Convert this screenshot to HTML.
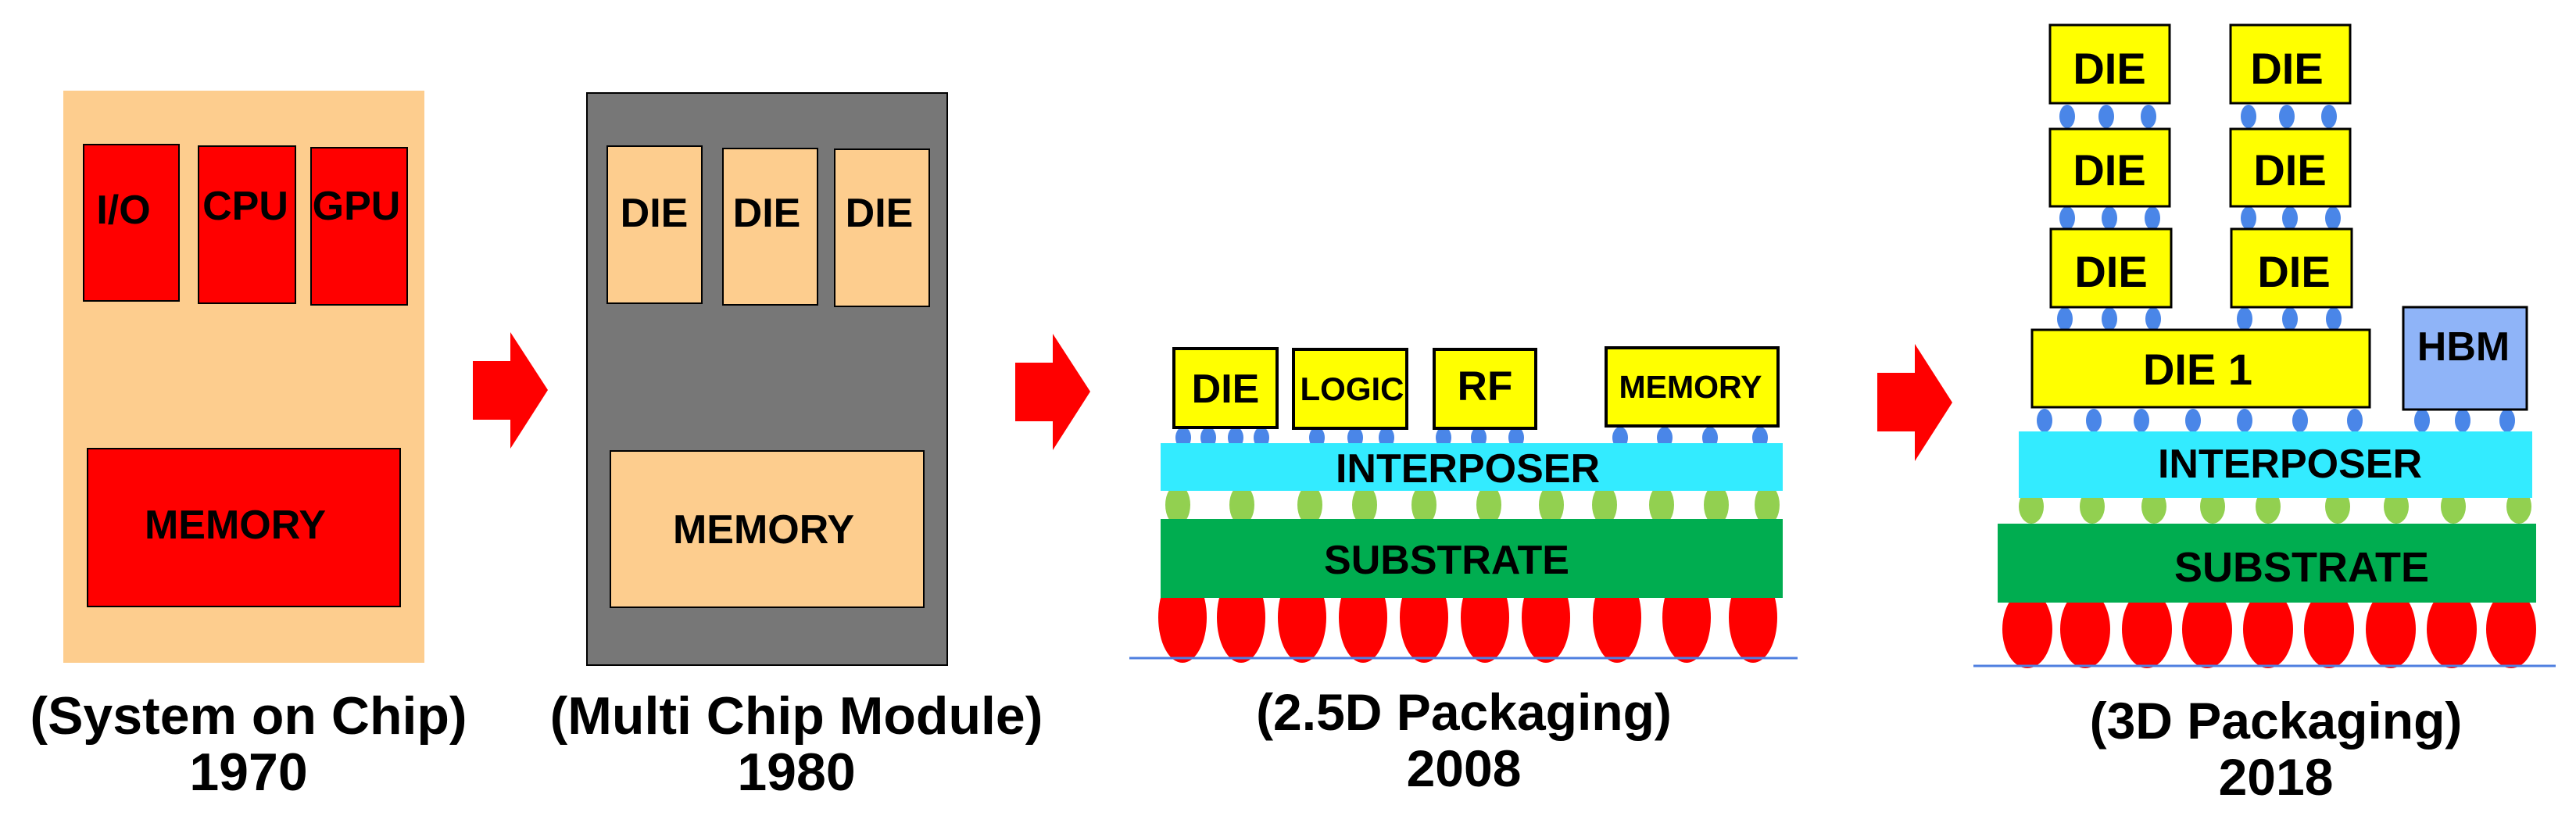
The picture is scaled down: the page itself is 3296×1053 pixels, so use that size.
<!DOCTYPE html>
<html><head><meta charset="utf-8"><style>
html,body{margin:0;padding:0;background:#fff;}
svg{display:block;}
text{font-family:"Liberation Sans",Arial,sans-serif;font-weight:bold;fill:#000;text-anchor:middle;}
</style></head><body>
<svg width="3296" height="1053" viewBox="0 0 3296 1053" xmlns="http://www.w3.org/2000/svg">
<!-- SoC -->
<rect x="81" y="116" width="462" height="732" fill="#FDCD8E"/>
<g fill="#FF0000" stroke="#000" stroke-width="2">
<rect x="107" y="185" width="122" height="200"/>
<rect x="254" y="187" width="124" height="201"/>
<rect x="398" y="189" width="123" height="201"/>
<rect x="112" y="574" width="400" height="202"/>
</g>
<text x="158" y="286" font-size="52">I/O</text>
<text x="314" y="281" font-size="52">CPU</text>
<text x="456" y="281" font-size="52">GPU</text>
<text x="301" y="689" font-size="52">MEMORY</text>
<text x="318" y="939" font-size="68">(System on Chip)</text>
<text x="318" y="1011" font-size="68">1970</text>
<!-- arrow 1 -->
<polygon points="605,462 653,462 653,425 701,499 653,574 653,537 605,537" fill="#FF0000"/>
<!-- MCM -->
<rect x="751" y="119" width="461" height="732" fill="#777777" stroke="#000" stroke-width="2"/>
<g fill="#FDCD8E" stroke="#000" stroke-width="2">
<rect x="777" y="187" width="121" height="201"/>
<rect x="925" y="190" width="121" height="200"/>
<rect x="1068" y="191" width="121" height="201"/>
<rect x="781" y="577" width="401" height="200"/>
</g>
<text x="837" y="290" font-size="52">DIE</text>
<text x="981" y="290" font-size="52">DIE</text>
<text x="1125" y="290" font-size="52">DIE</text>
<text x="977" y="695" font-size="52">MEMORY</text>
<text x="1019" y="939" font-size="68">(Multi Chip Module)</text>
<text x="1019" y="1011" font-size="68">1980</text>
<!-- arrow 2 -->
<polygon points="1299,464 1347,464 1347,427 1395,501 1347,576 1347,539 1299,539" fill="#FF0000"/>
<!-- 2.5D -->
<g fill="#FF0000">
<ellipse cx="1513" cy="790" rx="31" ry="58"/><ellipse cx="1588" cy="790" rx="31" ry="58"/>
<ellipse cx="1666" cy="790" rx="31" ry="58"/><ellipse cx="1744" cy="790" rx="31" ry="58"/>
<ellipse cx="1822" cy="790" rx="31" ry="58"/><ellipse cx="1900" cy="790" rx="31" ry="58"/>
<ellipse cx="1978" cy="790" rx="31" ry="58"/><ellipse cx="2069" cy="790" rx="31" ry="58"/>
<ellipse cx="2158" cy="790" rx="31" ry="58"/><ellipse cx="2243" cy="790" rx="31" ry="58"/>
</g>
<line x1="1445" y1="842" x2="2300" y2="842" stroke="#4F7FE0" stroke-width="3"/>
<g fill="#92D050">
<ellipse cx="1507" cy="646" rx="16" ry="26"/><ellipse cx="1589" cy="646" rx="16" ry="26"/>
<ellipse cx="1676" cy="646" rx="16" ry="26"/><ellipse cx="1746" cy="646" rx="16" ry="26"/>
<ellipse cx="1822" cy="646" rx="16" ry="26"/><ellipse cx="1905" cy="646" rx="16" ry="26"/>
<ellipse cx="1985" cy="646" rx="16" ry="26"/><ellipse cx="2053" cy="646" rx="16" ry="26"/>
<ellipse cx="2126" cy="646" rx="16" ry="26"/><ellipse cx="2196" cy="646" rx="16" ry="26"/>
<ellipse cx="2261" cy="646" rx="16" ry="26"/>
</g>
<g fill="#4A86E8">
<ellipse cx="1514" cy="560" rx="10" ry="14"/><ellipse cx="1546" cy="560" rx="10" ry="14"/>
<ellipse cx="1581" cy="560" rx="10" ry="14"/><ellipse cx="1614" cy="560" rx="10" ry="14"/>
<ellipse cx="1685" cy="560" rx="10" ry="14"/><ellipse cx="1734" cy="560" rx="10" ry="14"/>
<ellipse cx="1774" cy="560" rx="10" ry="14"/><ellipse cx="1847" cy="560" rx="10" ry="14"/>
<ellipse cx="1892" cy="560" rx="10" ry="14"/><ellipse cx="1940" cy="560" rx="10" ry="14"/>
<ellipse cx="2073" cy="560" rx="10" ry="14"/><ellipse cx="2130" cy="560" rx="10" ry="14"/>
<ellipse cx="2188" cy="560" rx="10" ry="14"/><ellipse cx="2252" cy="560" rx="10" ry="14"/>
</g>
<rect x="1485" y="567" width="796" height="61" fill="#33EBFF"/>
<rect x="1485" y="664" width="796" height="101" fill="#00AD50"/>
<text x="1878" y="617" font-size="52">INTERPOSER</text>
<text x="1851" y="734" font-size="52">SUBSTRATE</text>
<g fill="#FFFF00" stroke="#000" stroke-width="4">
<rect x="1502" y="446" width="132" height="101"/>
<rect x="1655" y="447" width="145" height="101"/>
<rect x="1835" y="447" width="130" height="101"/>
<rect x="2055" y="445" width="220" height="100"/>
</g>
<text x="1568" y="515" font-size="52">DIE</text>
<text x="1730" y="512" font-size="42">LOGIC</text>
<text x="1900" y="512" font-size="53">RF</text>
<text x="2163" y="509" font-size="41">MEMORY</text>
<text x="1873" y="934" font-size="66">(2.5D Packaging)</text>
<text x="1873" y="1006" font-size="66">2008</text>
<!-- arrow 3 -->
<polygon points="2402,477 2450,477 2450,440 2498,515 2450,590 2450,552 2402,552" fill="#FF0000"/>
<!-- 3D -->
<g fill="#FF0000">
<ellipse cx="2594" cy="805" rx="32" ry="50"/><ellipse cx="2668" cy="805" rx="32" ry="50"/>
<ellipse cx="2747" cy="805" rx="32" ry="50"/><ellipse cx="2824" cy="805" rx="32" ry="50"/>
<ellipse cx="2902" cy="805" rx="32" ry="50"/><ellipse cx="2980" cy="805" rx="32" ry="50"/>
<ellipse cx="3059" cy="805" rx="32" ry="50"/><ellipse cx="3137" cy="805" rx="32" ry="50"/>
<ellipse cx="3213" cy="805" rx="32" ry="50"/>
</g>
<line x1="2525" y1="852" x2="3270" y2="852" stroke="#4F7FE0" stroke-width="3"/>
<g fill="#92D050">
<ellipse cx="2599" cy="648" rx="16" ry="22"/><ellipse cx="2677" cy="648" rx="16" ry="22"/>
<ellipse cx="2756" cy="648" rx="16" ry="22"/><ellipse cx="2831" cy="648" rx="16" ry="22"/>
<ellipse cx="2902" cy="648" rx="16" ry="22"/><ellipse cx="2991" cy="648" rx="16" ry="22"/>
<ellipse cx="3066" cy="648" rx="16" ry="22"/><ellipse cx="3139" cy="648" rx="16" ry="22"/>
<ellipse cx="3223" cy="648" rx="16" ry="22"/>
</g>
<g fill="#4A86E8">
<ellipse cx="2616" cy="538" rx="10" ry="15"/><ellipse cx="2679" cy="538" rx="10" ry="15"/>
<ellipse cx="2740" cy="538" rx="10" ry="15"/><ellipse cx="2806" cy="538" rx="10" ry="15"/>
<ellipse cx="2872" cy="538" rx="10" ry="15"/><ellipse cx="2943" cy="538" rx="10" ry="15"/>
<ellipse cx="3013" cy="538" rx="10" ry="15"/><ellipse cx="3099" cy="538" rx="10" ry="15"/>
<ellipse cx="3151" cy="538" rx="10" ry="15"/><ellipse cx="3208" cy="538" rx="10" ry="15"/>
<ellipse cx="2645" cy="149" rx="10" ry="15"/><ellipse cx="2695" cy="149" rx="10" ry="15"/>
<ellipse cx="2749" cy="149" rx="10" ry="15"/><ellipse cx="2877" cy="149" rx="10" ry="15"/>
<ellipse cx="2926" cy="149" rx="10" ry="15"/><ellipse cx="2980" cy="149" rx="10" ry="15"/>
<ellipse cx="2645" cy="279" rx="10" ry="15"/><ellipse cx="2699" cy="279" rx="10" ry="15"/>
<ellipse cx="2754" cy="279" rx="10" ry="15"/><ellipse cx="2877" cy="279" rx="10" ry="15"/>
<ellipse cx="2930" cy="279" rx="10" ry="15"/><ellipse cx="2985" cy="279" rx="10" ry="15"/>
<ellipse cx="2642" cy="408" rx="10" ry="15"/><ellipse cx="2699" cy="408" rx="10" ry="15"/>
<ellipse cx="2755" cy="408" rx="10" ry="15"/><ellipse cx="2872" cy="408" rx="10" ry="15"/>
<ellipse cx="2930" cy="408" rx="10" ry="15"/><ellipse cx="2986" cy="408" rx="10" ry="15"/>
</g>
<rect x="2583" y="552" width="657" height="85" fill="#33EBFF"/>
<rect x="2556" y="670" width="689" height="101" fill="#00AD50"/>
<text x="2930" y="611" font-size="52">INTERPOSER</text>
<text x="2945" y="744" font-size="54">SUBSTRATE</text>
<g fill="#FFFF00" stroke="#000" stroke-width="3">
<rect x="2623" y="32" width="153" height="100"/>
<rect x="2854" y="32" width="153" height="100"/>
<rect x="2623" y="165" width="153" height="99"/>
<rect x="2854" y="165" width="153" height="99"/>
<rect x="2624" y="293" width="154" height="100"/>
<rect x="2855" y="293" width="154" height="100"/>
<rect x="2600" y="422" width="432" height="99"/>
</g>
<rect x="3075" y="393" width="158" height="131" fill="#8FB4F8" stroke="#000" stroke-width="3"/>
<text x="2699" y="107" font-size="56">DIE</text>
<text x="2926" y="107" font-size="56">DIE</text>
<text x="2699" y="237" font-size="56">DIE</text>
<text x="2930" y="237" font-size="56">DIE</text>
<text x="2701" y="367" font-size="56">DIE</text>
<text x="2935" y="367" font-size="56">DIE</text>
<text x="2812" y="492" font-size="56">DIE 1</text>
<text x="3152" y="461" font-size="52">HBM</text>
<text x="2912" y="945" font-size="66">(3D Packaging)</text>
<text x="2912" y="1017" font-size="66">2018</text>
</svg>
</body></html>
